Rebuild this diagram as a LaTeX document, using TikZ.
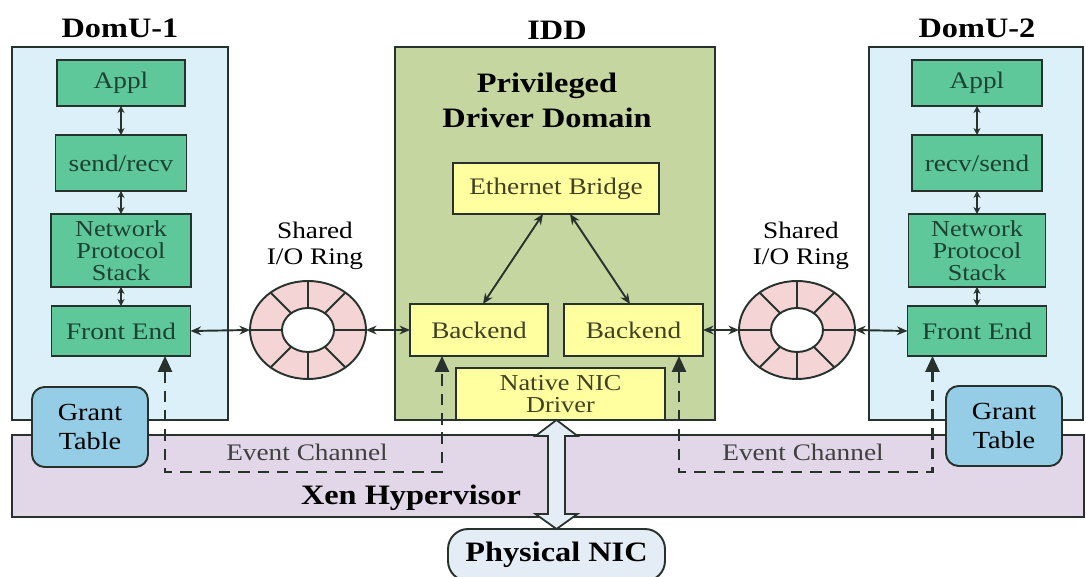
\documentclass[tikz,border=0pt]{standalone}
\usepackage{fontspec}
\setmainfont{Liberation Serif}[FakeStretch=1.15]
\usetikzlibrary{arrows.meta,calc,shapes.geometric}

\definecolor{domblue}{RGB}{220,240,250}
\definecolor{appgreen}{RGB}{95,200,155}
\definecolor{iddgreen}{RGB}{198,214,160}
\definecolor{drvyellow}{RGB}{255,255,160}
\definecolor{ringpink}{RGB}{244,212,212}
\definecolor{grantblue}{RGB}{150,205,230}
\definecolor{xenlilac}{RGB}{225,215,232}
\definecolor{nicblue}{RGB}{228,236,246}
\definecolor{edge}{RGB}{40,50,45}
\definecolor{greentext}{RGB}{30,65,50}
\definecolor{yeltext}{RGB}{65,65,35}

\begin{document}
\begin{tikzpicture}[x=0.02cm, y=-0.02cm,
    every node/.style={inner sep=0pt, outer sep=0pt},
    box/.style={draw=edge, line width=1.1pt, font=\fontsize{13.5}{12.5}\selectfont, align=center},
    dom/.style={box, minimum height=7.46cm},
    app/.style={box, fill=appgreen, text=greentext},
    yel/.style={box, fill=drvyellow, text=yeltext},
    grant/.style={box, fill=grantblue, rounded corners=0.25cm, minimum width=2.32cm, minimum height=1.6cm, font=\fontsize{14}{16.5}\selectfont},
    title/.style={font=\fontsize{16}{20}\selectfont\bfseries, align=center},
    lbl/.style={font=\fontsize{13.5}{15}\selectfont, align=center},
    ring/.style={ellipse, draw=edge, line width=1.1pt, fill=ringpink, minimum width=2.32cm, minimum height=1.96cm},
    hole/.style={ellipse, draw=edge, line width=1.1pt, fill=white, minimum width=1.04cm, minimum height=0.88cm},
    stk/.style={{Stealth[length=4pt,width=4pt]}-{Stealth[length=4pt,width=4pt]}, line width=1pt, draw=edge},
    link/.style={{Stealth[length=6pt,width=5pt]}-{Stealth[length=6pt,width=5pt]}, line width=1.1pt, draw=edge},
    evt/.style={dash pattern=on 6.5pt off 4.5pt, line width=1.2pt, draw=edge,
        {Triangle[length=9pt,width=8pt]}-{Triangle[length=9pt,width=8pt]}},
    nicarrow/.style={draw=edge, line width=1pt, fill=nicblue, line join=miter},
]
\useasboundingbox (0,0) rectangle (1086,577);

\node (XEN)[box, fill=xenlilac, minimum width=21.44cm, minimum height=1.64cm] at (548,476) {};

\node (D1)[dom, fill=domblue, minimum width=4.32cm] at (120,233.5) {};
\node (IDD)[dom, fill=iddgreen, minimum width=6.4cm] at (555,233.5) {};
\node (D2)[dom, fill=domblue, minimum width=4.28cm] at (976,233.5) {};

\node (t1)[title] at (120,28) {DomU-1};
\node (t0)[title] at (557,30) {IDD};
\node (t2)[title] at (977,28) {DomU-2};

\node (A1)[app, minimum width=2.56cm, minimum height=0.92cm] at (121,83) {Appl};
\node (S1)[app, minimum width=2.62cm, minimum height=1.12cm] at (121,163) {send/recv};
\node (N1)[app, minimum width=2.8cm, minimum height=1.46cm, font=\fontsize{13}{12.6}\selectfont] at (121,250.5) {Network\\Protocol\\Stack};
\node (F1)[app, minimum width=2.78cm, minimum height=1.0cm] at (121,331) {Front End};

\node (A2)[app, minimum width=2.6cm, minimum height=0.92cm] at (977,83) {Appl};
\node (S2)[app, minimum width=2.6cm, minimum height=1.12cm] at (977,163) {recv/send};
\node (N2)[app, minimum width=2.74cm, minimum height=1.46cm, font=\fontsize{13}{12.6}\selectfont] at (977,250.5) {Network\\Protocol\\Stack};
\node (F2)[app, minimum width=2.78cm, minimum height=1.0cm] at (977,331) {Front End};

\draw[stk] (A1) -- (S1);
\draw[stk] (S1) -- (N1);
\draw[stk] (N1) -- (F1);
\draw[stk] (A2) -- (S2);
\draw[stk] (S2) -- (N2);
\draw[stk] (N2) -- (F2);

\node (PDD)[title] at (547,100) {Privileged\\Driver Domain};
\node (EB)[yel, minimum width=4.12cm, minimum height=1.02cm] at (556,188.5) {Ethernet Bridge};
\node (B1)[yel, minimum width=2.76cm, minimum height=1.04cm] at (479,330) {Backend};
\node (B2)[yel, minimum width=2.78cm, minimum height=1.04cm] at (633.5,330) {Backend};
\node (DRV)[yel, minimum width=4.18cm, minimum height=1.04cm, font=\fontsize{13}{13}\selectfont] at (560.5,394) {Native NIC\\Driver};

\draw[link] ($(EB.south)+(-13,0)$) -- ($(B1.north)+(4,0)$);
\draw[link] ($(EB.south)+(14,0)$) -- ($(B2.north)+(-3.5,0)$);

\node (R1)[ring] at (308,330) {};
\node (H1)[hole] at (308,330) {};
\foreach \a in {0,45,...,315}
    \draw[line width=1.1pt, draw=edge] (H1.\a) -- (R1.\a);
\node (R2)[ring] at (797,330) {};
\node (H2)[hole] at (797,330) {};
\foreach \a in {0,45,...,315}
    \draw[line width=1.1pt, draw=edge] (H2.\a) -- (R2.\a);

\node (sr1)[lbl] at (315,246) {Shared\\I/O Ring};
\node (sr2)[lbl] at (801,246) {Shared\\I/O Ring};

\draw[link] (F1.east) -- (R1.west);
\draw[link] (R1.east) -- (B1.west);
\draw[link] (B2.east) -- (R2.west);
\draw[link] (R2.east) -- (F2.west);

\node (G1)[grant] at (90,427) {Grant\\Table};
\node (G2)[grant] at (1004,426) {Grant\\Table};

\draw[evt] ($(F1.south)+(44,0)$) -- ++(0,116) -| ($(B1.south)+(-37,0)$);
\draw[evt] ($(B2.south)+(45.5,0)$) -- ++(0,116) -| ($(F2.south)+(-44.5,0)$);

\node (ev1)[lbl, text=black!75] at (307,452) {Event Channel};
\node (ev2)[lbl, text=black!75] at (803,452) {Event Channel};
\node (xh)[title] at (411,498) {Xen Hypervisor};

\node (PHY)[box, fill=nicblue, rounded corners=0.4cm, minimum width=4.34cm, minimum height=1.04cm,
    font=\fontsize{16}{20}\selectfont\bfseries] at (556.5,555) {Physical NIC};

\coordinate (nt) at (PHY.north |- IDD.south);
\coordinate (nb) at (PHY.north);
\draw[nicarrow] (nt) -- ++(21,16) -- ++(-12.5,0) -- ($(nb)+(8.5,-15)$) -- ++(12.5,0) -- (nb)
    -- ++(-21,-15) -- ++(12.5,0) -- ($(nt)+(-8.5,16)$) -- ++(-12.5,0) -- cycle;
\end{tikzpicture}
\end{document}
